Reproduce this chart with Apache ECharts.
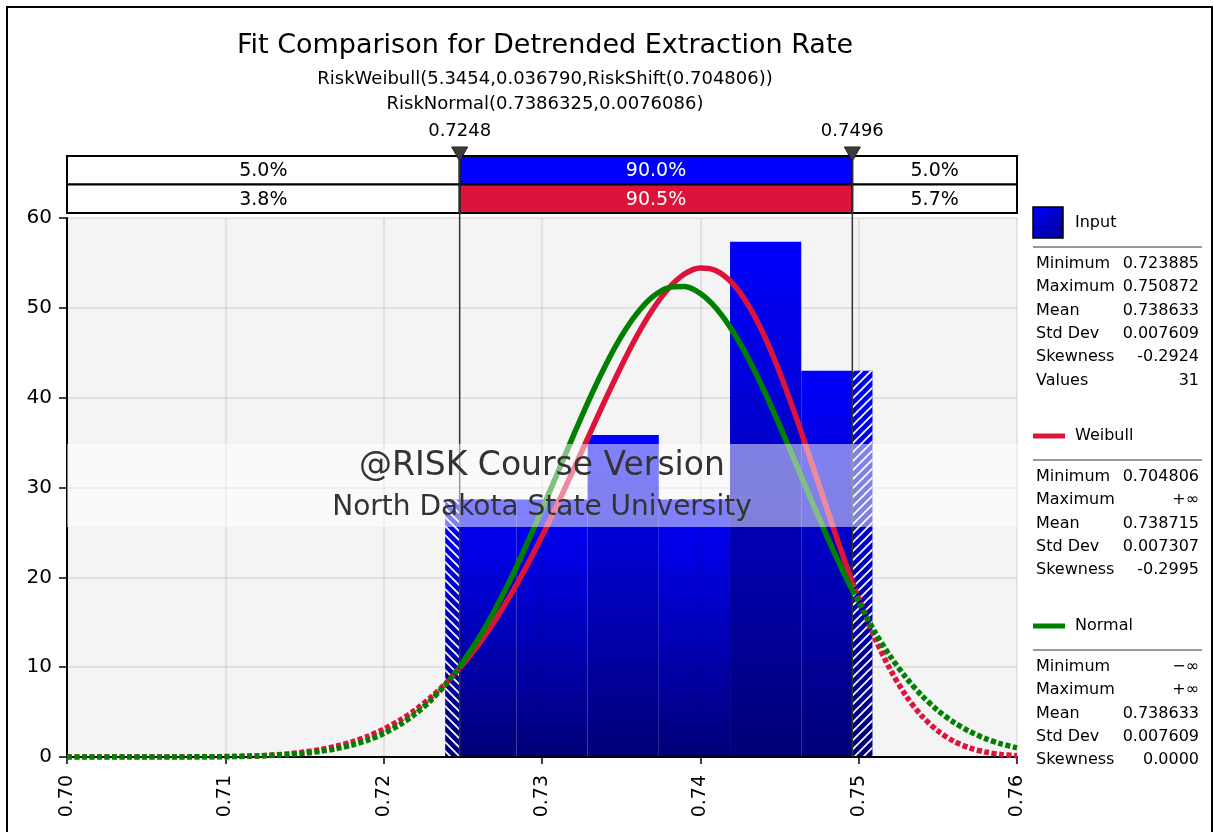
<!DOCTYPE html>
<html>
<head>
<meta charset="utf-8">
<script src="https://cdn.jsdelivr.net/npm/echarts@6/dist/echarts.min.js"></script>
<style>
html, body { margin: 0; padding: 0; background: #fff; }
#chart { width: 1214px; height: 832px; }
</style>
</head>
<body>
<div id="chart"></div>
<script>
// input histogram (density per bin, 31 values in 6 bins)
const binEdges = [0.723885, 0.728383, 0.732881, 0.737378, 0.741876, 0.746374, 0.750872];
const binDensity = [28.67, 28.67, 35.84, 28.67, 57.35, 43.01];

// fitted curves, read along the x axis
const curveX = [0.700, 0.702, 0.704, 0.706, 0.708, 0.710, 0.712, 0.714,
  0.715, 0.716, 0.717, 0.718, 0.719, 0.720, 0.721, 0.722, 0.723, 0.724,
  0.725, 0.726, 0.727, 0.728, 0.729, 0.730, 0.731, 0.732, 0.733, 0.734,
  0.735, 0.736, 0.737, 0.738, 0.739, 0.740, 0.741, 0.742, 0.743, 0.744,
  0.745, 0.746, 0.747, 0.748, 0.749, 0.750, 0.751, 0.752, 0.753, 0.754,
  0.755, 0.756, 0.757, 0.758, 0.759, 0.760];
const weibullY = [0, 0, 0, 0.0001, 0.004, 0.03, 0.12, 0.35,
  0.55, 0.82, 1.20, 1.68, 2.30, 3.09, 4.06, 5.24, 6.66, 8.34,
  10.29, 12.55, 15.11, 17.98, 21.14, 24.57, 28.22, 32.04, 35.92, 39.78,
  43.48, 46.89, 49.84, 52.18, 53.76, 54.43, 54.13, 52.77, 50.39, 47.04,
  42.87, 38.09, 32.91, 27.61, 22.43, 17.63, 13.35, 9.73, 6.80, 4.55,
  2.90, 1.76, 1.01, 0.55, 0.28, 0.14];
const normalY = [0.0001, 0.0005, 0.002, 0.005, 0.016, 0.044, 0.115, 0.28,
  0.42, 0.63, 0.92, 1.33, 1.88, 2.61, 3.58, 4.80, 6.35, 8.25,
  10.53, 13.22, 16.30, 19.73, 23.53, 27.54, 31.70, 35.85, 39.87, 43.56,
  46.79, 49.38, 51.24, 52.25, 52.37, 51.59, 49.95, 47.53, 44.47, 40.88,
  36.94, 32.81, 28.64, 24.57, 20.72, 17.18, 13.99, 11.20, 8.82, 6.82,
  5.18, 3.87, 2.85, 2.05, 1.46, 1.02];

// 5% / 95% delimiters and curve values there
const lowerT = 0.7248;
const upperT = 0.7496;
const weibullAtT = [9.88, 19.49];
const normalAtT = [10.05, 18.56];

// probability bands above the plot
const inputPct = [5.0, 90.0, 5.0];
const weibullPct = [3.8, 90.5, 5.7];

// axis ranges
const xMin = 0.70, xMax = 0.76, xStep = 0.01;
const yMin = 0, yMax = 60, yStep = 10;

// statistics panel
const inputStatNames = ['Minimum', 'Maximum', 'Mean', 'Std Dev', 'Skewness', 'Values'];
const inputStatValues = ['0.723885', '0.750872', '0.738633', '0.007609', '-0.2924', '31'];
const weibullStatNames = ['Minimum', 'Maximum', 'Mean', 'Std Dev', 'Skewness'];
const weibullStatValues = ['0.704806', '+\u221e', '0.738715', '0.007307', '-0.2995'];
const normalStatNames = ['Minimum', 'Maximum', 'Mean', 'Std Dev', 'Skewness'];
const normalStatValues = ['\u2212\u221e', '+\u221e', '0.738633', '0.007609', '0.0000'];

const FONT = 'DejaVu Sans';
const RED = '#DC143C';
const GREEN = '#008000';

const chart = echarts.init(document.getElementById('chart'));

// split a curve into the part left of lowerT, between, and right of upperT
function splitCurve(ys, atT) {
  const left = [], mid = [], right = [];
  curveX.forEach((x, i) => {
    // skip points that sit right on top of a delimiter
    if (Math.abs(x - lowerT) < 0.0005 || Math.abs(x - upperT) < 0.0005) return;
    if (x < lowerT) left.push([x, ys[i]]);
    else if (x > upperT) right.push([x, ys[i]]);
    else mid.push([x, ys[i]]);
  });
  left.push([lowerT, atT[0]]);
  mid.unshift([lowerT, atT[0]]);
  mid.push([upperT, atT[1]]);
  right.unshift([upperT, atT[1]]);
  return { left, mid, right };
}

// white diagonal stripes for the parts of the bars outside the delimiters
function hatchCanvas(dir) {
  const s = 9;
  const c = document.createElement('canvas');
  c.width = s; c.height = s;
  const g = c.getContext('2d');
  g.strokeStyle = '#ffffff';
  g.lineWidth = 1.7;
  g.beginPath();
  if (dir < 0) {
    g.moveTo(0, 0); g.lineTo(s, s);
    g.moveTo(-2, s - 2); g.lineTo(2, s + 2);
    g.moveTo(s - 2, -2); g.lineTo(s + 2, 2);
  } else {
    g.moveTo(0, s); g.lineTo(s, 0);
    g.moveTo(-2, 2); g.lineTo(2, -2);
    g.moveTo(s - 2, s + 2); g.lineTo(s + 2, s - 2);
  }
  g.stroke();
  return c;
}
const hatchLeft = hatchCanvas(-1);
const hatchRight = hatchCanvas(1);

const barData = binDensity.map((d, i) => [binEdges[i], binEdges[i + 1], d]);
const hatchData = [];
binDensity.forEach((d, i) => {
  if (binEdges[i] < lowerT) hatchData.push([binEdges[i], Math.min(binEdges[i + 1], lowerT), d, -1]);
  if (binEdges[i + 1] > upperT) hatchData.push([Math.max(binEdges[i], upperT), binEdges[i + 1], d, 1]);
});

const bandData = [];
const bounds = [xMin, lowerT, upperT, xMax];
[inputPct, weibullPct].forEach((row, r) => {
  row.forEach((p, k) => bandData.push([bounds[k], bounds[k + 1], r, p, k]));
});
const bandFill = [['#ffffff', '#0000FF', '#ffffff'], ['#ffffff', RED, '#ffffff']];

const wb = splitCurve(weibullY, weibullAtT);
const nm = splitCurve(normalY, normalAtT);

function curve(name, data, color, dashed) {
  return {
    name: name,
    type: 'line',
    xAxisIndex: 0, yAxisIndex: 0,
    data: data,
    smooth: 0.3,
    symbol: 'none',
    z: 6,
    lineStyle: { color: color, width: 5.5, type: dashed ? [5, 2.5] : 'solid', cap: 'butt' }
  };
}

// statistics panel as graphic elements
function statBlock(top, title, icon, names, values) {
  const els = [];
  if (icon === 'box') {
    els.push({ type: 'rect', shape: { x: 1033, y: top - 16, width: 30, height: 31 },
      style: { fill: new echarts.graphic.LinearGradient(0, 0, 1, 1, [
        { offset: 0, color: '#0000FF' }, { offset: 1, color: '#000090' }]), stroke: '#000', lineWidth: 1.5 } });
  } else {
    els.push({ type: 'rect', shape: { x: 1033, y: top - 2.5, width: 32, height: 5 }, style: { fill: icon } });
  }
  els.push({ type: 'text', x: 1075, y: top, style: { text: title, font: '16px ' + FONT, fill: '#000', verticalAlign: 'middle' } });
  els.push({ type: 'line', shape: { x1: 1033, y1: top + 24, x2: 1202, y2: top + 24 }, style: { stroke: '#999', lineWidth: 2 } });
  names.forEach((n, i) => {
    const y = top + 41 + i * 23.3;
    els.push({ type: 'text', x: 1036, y: y, style: { text: n, font: '16px ' + FONT, fill: '#000', verticalAlign: 'middle' } });
    els.push({ type: 'text', x: 1199, y: y, style: { text: values[i], font: '16px ' + FONT, fill: '#000', align: 'right', verticalAlign: 'middle' } });
  });
  return els;
}

const graphics = [].concat(
  [{ type: 'rect', shape: { x: 7, y: 7, width: 1205, height: 900 }, style: { fill: 'none', stroke: '#000', lineWidth: 2 } }],
  statBlock(223, 'Input', 'box', inputStatNames, inputStatValues),
  statBlock(436, 'Weibull', RED, weibullStatNames, weibullStatValues),
  statBlock(626, 'Normal', GREEN, normalStatNames, normalStatValues),
  [
    { type: 'rect', z: 100, shape: { x: 67, y: 444, width: 950, height: 83 }, style: { fill: 'rgba(255,255,255,0.5)' } },
    { type: 'text', z: 101, x: 542, y: 466, style: { text: '@RISK Course Version', font: '33px ' + FONT, fill: '#333', align: 'center', verticalAlign: 'middle' } },
    { type: 'text', z: 101, x: 542, y: 508, style: { text: 'North Dakota State University', font: '28px ' + FONT, fill: '#333', align: 'center', verticalAlign: 'middle' } }
  ]
);

const option = {
  animation: false,
  backgroundColor: '#ffffff',
  title: {
    text: 'Fit Comparison for Detrended Extraction Rate',
    subtext: 'RiskWeibull(5.3454,0.036790,RiskShift(0.704806))\nRiskNormal(0.7386325,0.0076086)',
    left: 540, top: 27, textAlign: 'center',
    itemGap: 8,
    textStyle: { fontFamily: FONT, fontSize: 27, fontWeight: 'normal', color: '#000' },
    subtextStyle: { fontFamily: FONT, fontSize: 18, color: '#000', lineHeight: 25 }
  },
  grid: [
    { left: 67, right: 197, top: 218, bottom: 75, show: true, backgroundColor: '#F4F4F4', borderWidth: 0 },
    { left: 67, right: 197, top: 156, height: 57 }
  ],
  xAxis: [
    {
      type: 'value', gridIndex: 0, min: xMin, max: xMax, interval: xStep, z: 4,
      axisLine: { show: true, lineStyle: { color: '#000', width: 2 } },
      axisTick: { show: true, length: 7, lineStyle: { color: '#000', width: 1.5 } },
      axisLabel: { rotate: 90, fontFamily: FONT, fontSize: 19, color: '#000', margin: 18,
        formatter: v => v.toFixed(2) },
      splitLine: { show: true, lineStyle: { color: 'rgba(0,0,0,0.1)', width: 1.5 } }
    },
    { type: 'value', gridIndex: 1, min: xMin, max: xMax, show: false }
  ],
  yAxis: [
    {
      type: 'value', gridIndex: 0, min: yMin, max: yMax, interval: yStep, z: 4,
      axisLine: { show: true, lineStyle: { color: '#000', width: 2 } },
      axisTick: { show: true, length: 8, lineStyle: { color: '#000', width: 1.5 } },
      axisLabel: { fontFamily: FONT, fontSize: 20, color: '#000', margin: 15 },
      splitLine: { show: true, lineStyle: { color: 'rgba(0,0,0,0.1)', width: 1.5 } }
    },
    { type: 'value', gridIndex: 1, min: 0, max: 2, inverse: true, show: false }
  ],
  graphic: graphics,
  series: [
    {
      name: 'Input',
      type: 'custom',
      xAxisIndex: 0, yAxisIndex: 0,
      data: barData,
      z: 2,
      renderItem: (params, api) => {
        const a = api.coord([api.value(0), api.value(2)]);
        const b = api.coord([api.value(1), 0]);
        return {
          type: 'rect',
          shape: { x: a[0], y: a[1], width: b[0] - a[0], height: b[1] - a[1] },
          style: { fill: new echarts.graphic.LinearGradient(0, 0, 0, 1, [
            { offset: 0, color: '#0000FF' }, { offset: 1, color: '#000078' }]) }
        };
      }
    },
    {
      name: 'hatch',
      type: 'custom',
      xAxisIndex: 0, yAxisIndex: 0,
      data: hatchData,
      z: 3,
      renderItem: (params, api) => {
        const a = api.coord([api.value(0), api.value(2)]);
        const b = api.coord([api.value(1), 0]);
        return {
          type: 'rect',
          shape: { x: a[0], y: a[1], width: b[0] - a[0], height: b[1] - a[1] },
          style: { fill: { image: api.value(3) < 0 ? hatchLeft : hatchRight, repeat: 'repeat' } }
        };
      }
    },
    {
      name: 'delimiter lines',
      type: 'custom',
      xAxisIndex: 0, yAxisIndex: 0,
      data: [[lowerT], [upperT]],
      z: 5,
      renderItem: (params, api) => {
        const p = api.coord([api.value(0), yMax]);
        const q = api.coord([api.value(0), yMin]);
        return { type: 'line', shape: { x1: p[0], y1: p[1] - 6, x2: q[0], y2: q[1] },
          style: { stroke: '#333', lineWidth: 1.5 } };
      }
    },
    curve('Weibull', wb.left, RED, true),
    curve('Weibull', wb.mid, RED, false),
    curve('Weibull', wb.right, RED, true),
    curve('Normal', nm.left, GREEN, true),
    curve('Normal', nm.mid, GREEN, false),
    curve('Normal', nm.right, GREEN, true),
    {
      name: 'bands',
      type: 'custom',
      xAxisIndex: 1, yAxisIndex: 1,
      data: bandData,
      renderItem: (params, api) => {
        const a = api.coord([api.value(0), api.value(2)]);
        const b = api.coord([api.value(1), api.value(2) + 1]);
        const fill = bandFill[api.value(2)][api.value(4)];
        return {
          type: 'group',
          children: [
            { type: 'rect', shape: { x: a[0], y: a[1], width: b[0] - a[0], height: b[1] - a[1] },
              style: { fill: fill, stroke: '#000', lineWidth: 2 } },
            { type: 'text', style: { text: api.value(3).toFixed(1) + '%', x: (a[0] + b[0]) / 2, y: (a[1] + b[1]) / 2 + 1,
              align: 'center', verticalAlign: 'middle', font: '19px ' + FONT, fill: fill === '#ffffff' ? '#000' : '#fff' } }
          ]
        };
      }
    },
    {
      name: 'delimiters',
      type: 'custom',
      xAxisIndex: 1, yAxisIndex: 1,
      data: [[lowerT], [upperT]],
      z: 4,
      renderItem: (params, api) => {
        const t = api.value(0);
        const p = api.coord([t, 0]);
        const q = api.coord([t, 2]);
        return {
          type: 'group',
          children: [
            { type: 'line', shape: { x1: p[0], y1: p[1] - 6, x2: q[0], y2: q[1] }, style: { stroke: '#333', lineWidth: 1.5 } },
            { type: 'polygon', shape: { points: [[p[0] - 8, p[1] - 9], [p[0] + 8, p[1] - 9], [p[0], p[1] + 5]] },
              style: { fill: '#3c3c3c', stroke: '#222', lineWidth: 1 } },
            { type: 'text', style: { text: t.toFixed(4), x: p[0], y: p[1] - 25, align: 'center', verticalAlign: 'middle',
              font: '18px ' + FONT, fill: '#000' } }
          ]
        };
      }
    }
  ]
};

chart.setOption(option);
</script>
</body>
</html>
